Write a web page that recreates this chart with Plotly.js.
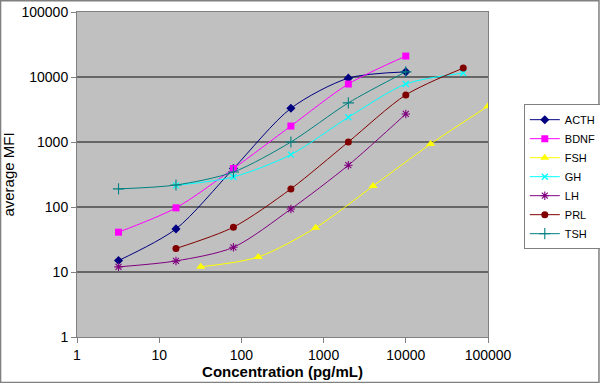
<!DOCTYPE html>
<html>
<head>
<meta charset="utf-8">
<script src="https://cdn.plot.ly/plotly-3.0.1.min.js"></script>
<style>html,body{margin:0;padding:0;background:#fff;}#chart{width:600px;height:383px;}</style>
</head>
<body>
<div id="chart"></div>
<script>
const concA = [3.2, 16, 80, 400, 2000, 10000];
const concG = [16, 80, 400, 2000, 10000, 50000];
const concP = [16, 80, 400, 2000, 10000, 50000];
const concF = [32, 160, 800, 4000, 20000, 100000];

const ACTH = [15, 46, 390, 3300, 9600, 12000];
const BDNF = [41, 97, 390, 1760, 7800, 21000];
const FSH  = [12, 17, 48, 210, 930, 3550];
const GH   = [215, 290, 640, 2400, 7800, 11500];
const LH   = [12, 14.8, 24, 93, 440, 2700];
const PRL  = [23, 49, 190, 1000, 5300, 13700];
const TSH  = [190, 218, 345, 1000, 4000, 12000];

const xTicks = [1, 10, 100, 1000, 10000, 100000];
const xTickText = ["1", "10", "100", "1000", "10000", "100000"];
const yTicks = [1, 10, 100, 1000, 10000, 100000];
const yTickText = ["1", "10", "100", "1000", "10000", "100000"];

function tr(name, x, y, color, symbol, size, lw) {
  return {
    type: 'scatter', mode: 'lines+markers', name: name, x: x, y: y,
    line: {color: color, width: 1, shape: 'spline', smoothing: 0.8},
    marker: {color: color, symbol: symbol, size: size, line: {color: color, width: lw || 0}}
  };
}

const data = [
  tr('ACTH', concA, ACTH, '#000080', 'diamond', 7),
  tr('BDNF', concA, BDNF, '#FF00FF', 'square', 7),
  tr('FSH', concF, FSH, '#FFFF00', 'triangle-up', 8),
  tr('GH', concG, GH, '#00FFFF', 'x-thin-open', 6, 1.3),
  tr('LH', concA, LH, '#800080', 'asterisk-open', 7, 1.1),
  tr('PRL', concP, PRL, '#800000', 'circle', 7),
  tr('TSH', concA, TSH, '#008080', 'cross-thin-open', 8, 1.1)
];

const layout = {
  width: 600, height: 383,
  margin: {l: 77, r: 112, t: 12, b: 46},
  paper_bgcolor: '#FFFFFF',
  plot_bgcolor: '#C0C0C0',
  font: {family: 'Liberation Sans, Arial, sans-serif', size: 12, color: '#000'},
  showlegend: true,
  legend: {
    xref: 'container', yref: 'container',
    x: 0.873, y: 0.728, xanchor: 'left', yanchor: 'top',
    bgcolor: '#FFFFFF', bordercolor: '#808080', borderwidth: 1,
    font: {size: 11, color: '#000'}, tracegroupgap: 0, itemwidth: 30
  },
  xaxis: {
    type: 'log', range: [0, 5], tickmode: 'array', tickvals: xTicks, ticktext: xTickText,
    showgrid: false, zeroline: false, showline: true, linecolor: '#808080', linewidth: 1,
    ticks: 'outside', ticklen: 5, tickcolor: '#808080', mirror: true, automargin: false,
    tickfont: {size: 14, color: '#000'},
    title: {text: 'Concentration (pg/mL)', font: {size: 15, color: '#000', weight: 'bold'}, standoff: 2}
  },
  yaxis: {
    type: 'log', range: [0, 5], tickmode: 'array', tickvals: yTicks, ticktext: yTickText,
    showgrid: true, gridcolor: '#666666', gridwidth: 1.5, zeroline: false,
    showline: true, linecolor: '#808080', linewidth: 1, mirror: true, automargin: false,
    ticks: 'outside', ticklen: 5, tickcolor: '#808080',
    tickfont: {size: 14, color: '#000'},
    title: {text: 'average MFI', font: {size: 15, color: '#000'}, standoff: 4}
  },
  shapes: [
    {type: 'rect', xref: 'paper', yref: 'paper', x0: -0.186, x1: 1.27, y0: -0.14, y1: 1.035,
     line: {color: '#808080', width: 1.5}, fillcolor: 'rgba(0,0,0,0)', layer: 'below'}
  ]
};

Plotly.newPlot('chart', data, layout, {displayModeBar: false, staticPlot: true});
</script>
</body>
</html>
